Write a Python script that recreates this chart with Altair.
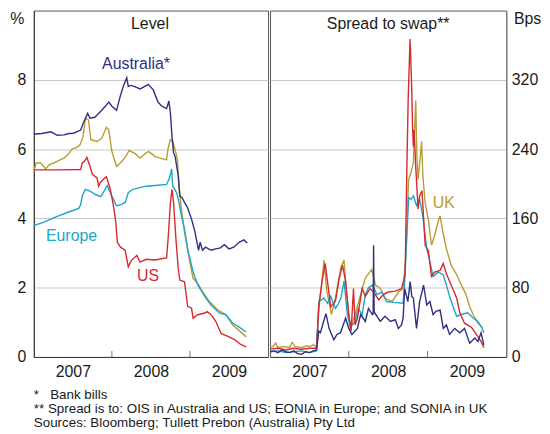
import altair as alt
import pandas as pd

FONT = "Liberation Sans"

# ---------------- data ----------------
# Left panel: Level (%)
AUS_L_T = [2007.00, 2007.10, 2007.22, 2007.30, 2007.385, 2007.45, 2007.51, 2007.60, 2007.64, 2007.69, 2007.72, 2007.78, 2007.83, 2007.87, 2007.92, 2007.96, 2008.00, 2008.06, 2008.11, 2008.15, 2008.19, 2008.21, 2008.25, 2008.30, 2008.36, 2008.41, 2008.465, 2008.53, 2008.59, 2008.64, 2008.70, 2008.73, 2008.75, 2008.77, 2008.79, 2008.81, 2008.83, 2008.85, 2008.87, 2008.90, 2008.93, 2008.97, 2009.02, 2009.06, 2009.09, 2009.11, 2009.13, 2009.16, 2009.20, 2009.27, 2009.33, 2009.39, 2009.44, 2009.50, 2009.56, 2009.63, 2009.69, 2009.735]
AUS_L_V = [6.43, 6.45, 6.50, 6.40, 6.41, 6.45, 6.46, 6.55, 6.79, 7.03, 6.89, 6.92, 7.03, 7.12, 7.25, 7.36, 7.24, 7.12, 7.55, 7.84, 8.06, 7.81, 7.84, 7.80, 7.74, 7.80, 7.87, 7.71, 7.36, 7.24, 7.17, 7.39, 7.03, 6.36, 5.89, 5.79, 5.50, 5.22, 4.65, 4.60, 4.46, 4.31, 3.98, 3.65, 3.31, 3.08, 3.31, 3.08, 3.17, 3.08, 3.12, 3.15, 3.24, 3.12, 3.17, 3.31, 3.38, 3.29]

UK_L_T = [2007.00, 2007.03, 2007.09, 2007.15, 2007.20, 2007.26, 2007.33, 2007.385, 2007.44, 2007.49, 2007.55, 2007.59, 2007.63, 2007.66, 2007.67, 2007.70, 2007.73, 2007.81, 2007.87, 2007.93, 2007.96, 2008.00, 2008.06, 2008.13, 2008.18, 2008.22, 2008.30, 2008.36, 2008.42, 2008.465, 2008.49, 2008.55, 2008.62, 2008.70, 2008.72, 2008.75, 2008.78, 2008.82, 2008.84, 2008.86, 2008.89, 2008.93, 2008.99, 2009.04, 2009.10, 2009.16, 2009.25, 2009.355, 2009.46, 2009.545, 2009.63, 2009.72]
UK_L_V = [5.36, 5.60, 5.60, 5.43, 5.55, 5.60, 5.68, 5.74, 5.85, 6.00, 6.05, 6.12, 6.36, 6.85, 6.89, 6.84, 6.27, 6.22, 6.31, 6.63, 6.55, 5.93, 5.50, 5.65, 5.80, 5.96, 5.87, 5.74, 5.85, 5.93, 5.90, 5.79, 5.74, 5.69, 6.03, 6.27, 6.22, 5.89, 5.69, 4.93, 4.27, 3.60, 2.84, 2.27, 2.12, 1.89, 1.60, 1.36, 1.22, 0.93, 0.76, 0.58]

US_L_T = [2007.00, 2007.30, 2007.60, 2007.62, 2007.65, 2007.68, 2007.72, 2007.75, 2007.81, 2007.83, 2007.85, 2007.91, 2007.93, 2007.98, 2008.02, 2008.05, 2008.07, 2008.11, 2008.17, 2008.21, 2008.25, 2008.32, 2008.36, 2008.44, 2008.55, 2008.70, 2008.72, 2008.75, 2008.77, 2008.79, 2008.82, 2008.85, 2008.87, 2008.93, 2008.97, 2009.02, 2009.04, 2009.10, 2009.19, 2009.22, 2009.27, 2009.33, 2009.40, 2009.48, 2009.57, 2009.65, 2009.72]
US_L_V = [5.40, 5.40, 5.41, 5.60, 5.65, 5.76, 5.50, 5.27, 5.17, 4.93, 5.03, 5.17, 5.20, 4.84, 4.36, 3.89, 3.31, 3.17, 3.08, 2.60, 2.79, 2.93, 2.74, 2.82, 2.80, 2.86, 3.41, 4.46, 4.84, 4.46, 3.41, 2.55, 2.22, 2.17, 1.46, 1.41, 1.12, 1.22, 1.27, 1.31, 1.22, 1.03, 0.67, 0.60, 0.50, 0.36, 0.29]

EUR_L_T = [2007.00, 2007.13, 2007.30, 2007.43, 2007.575, 2007.60, 2007.62, 2007.66, 2007.72, 2007.79, 2007.86, 2007.94, 2007.98, 2008.02, 2008.06, 2008.13, 2008.17, 2008.21, 2008.27, 2008.36, 2008.44, 2008.55, 2008.70, 2008.74, 2008.765, 2008.78, 2008.83, 2008.86, 2008.89, 2008.93, 2008.97, 2009.04, 2009.10, 2009.19, 2009.27, 2009.375, 2009.46, 2009.545, 2009.63, 2009.72]
EUR_L_V = [3.79, 3.89, 4.06, 4.17, 4.29, 4.40, 4.65, 4.84, 4.79, 4.69, 4.63, 4.95, 4.74, 4.55, 4.36, 4.41, 4.46, 4.74, 4.84, 4.89, 4.93, 4.95, 4.98, 5.17, 5.43, 4.93, 4.74, 4.46, 4.08, 3.69, 3.12, 2.46, 2.08, 1.74, 1.50, 1.27, 1.22, 0.98, 0.86, 0.72]

# Right panel: Spread to swap (Bps)
AUS_R_T = [2007.00, 2007.05, 2007.10, 2007.15, 2007.20, 2007.25, 2007.30, 2007.35, 2007.40, 2007.45, 2007.50, 2007.55, 2007.59, 2007.62, 2007.64, 2007.68, 2007.71, 2007.75, 2007.81, 2007.85, 2007.895, 2007.96, 2008.00, 2008.04, 2008.11, 2008.15, 2008.21, 2008.25, 2008.30, 2008.31, 2008.315, 2008.322, 2008.40, 2008.46, 2008.53, 2008.59, 2008.63, 2008.67, 2008.69, 2008.71, 2008.75, 2008.78, 2008.80, 2008.82, 2008.86, 2008.90, 2008.95, 2008.99, 2009.03, 2009.07, 2009.11, 2009.16, 2009.20, 2009.24, 2009.28, 2009.345, 2009.41, 2009.47, 2009.535, 2009.60, 2009.64, 2009.68, 2009.715]
AUS_R_V = [6, 7, 5, 8, 6, 5, 7, 4, 3, 6, 5, 7, 8, 30, 28, 41, 50, 33, 20, 26, 28, 45, 33, 26, 33, 49, 41, 56, 49, 50, 129, 52, 41, 47, 41, 43, 33, 37, 45, 79, 64, 87, 70, 68, 33, 64, 83, 60, 64, 49, 53, 54, 33, 37, 26, 33, 28, 33, 16, 22, 18, 28, 14]

EUR_R_T = [2007.00, 2007.10, 2007.20, 2007.30, 2007.40, 2007.50, 2007.59, 2007.62, 2007.685, 2007.73, 2007.77, 2007.83, 2007.86, 2007.90, 2007.94, 2007.98, 2008.02, 2008.08, 2008.12, 2008.17, 2008.21, 2008.25, 2008.30, 2008.36, 2008.42, 2008.48, 2008.57, 2008.69, 2008.71, 2008.74, 2008.76, 2008.79, 2008.82, 2008.86, 2008.90, 2008.94, 2008.99, 2009.03, 2009.07, 2009.135, 2009.20, 2009.24, 2009.28, 2009.325, 2009.37, 2009.43, 2009.51, 2009.58, 2009.64, 2009.70, 2009.715]
EUR_R_V = [6, 7, 5, 6, 7, 5, 7, 64, 68, 62, 70, 56, 60, 68, 88, 50, 34, 41, 56, 49, 72, 80, 83, 72, 75, 64, 63, 62, 87, 144, 184, 182, 186, 175, 182, 163, 125, 110, 93, 98, 95, 83, 70, 58, 47, 49, 51, 45, 41, 32, 28]

US_R_T = [2007.00, 2007.10, 2007.20, 2007.30, 2007.40, 2007.50, 2007.59, 2007.62, 2007.66, 2007.70, 2007.73, 2007.77, 2007.83, 2007.88, 2007.92, 2007.96, 2008.00, 2008.03, 2008.06, 2008.08, 2008.11, 2008.17, 2008.21, 2008.27, 2008.315, 2008.38, 2008.44, 2008.50, 2008.59, 2008.67, 2008.715, 2008.74, 2008.755, 2008.778, 2008.785, 2008.80, 2008.81, 2008.82, 2008.83, 2008.85, 2008.88, 2008.90, 2008.93, 2008.97, 2009.01, 2009.05, 2009.09, 2009.16, 2009.20, 2009.24, 2009.30, 2009.37, 2009.41, 2009.47, 2009.56, 2009.62, 2009.68, 2009.715]
US_R_V = [9, 10, 8, 10, 9, 10, 10, 60, 87, 108, 87, 58, 64, 91, 106, 87, 49, 30, 79, 37, 45, 79, 70, 79, 75, 66, 72, 75, 76, 79, 95, 230, 300, 367, 350, 308, 266, 243, 262, 220, 171, 186, 192, 129, 123, 93, 98, 100, 108, 96, 83, 68, 51, 39, 34, 26, 18, 11]

UK_R_T = [2007.00, 2007.04, 2007.07, 2007.10, 2007.18, 2007.25, 2007.28, 2007.32, 2007.40, 2007.47, 2007.50, 2007.55, 2007.59, 2007.62, 2007.645, 2007.685, 2007.72, 2007.78, 2007.83, 2007.895, 2007.94, 2007.97, 2008.02, 2008.08, 2008.15, 2008.21, 2008.29, 2008.34, 2008.40, 2008.46, 2008.55, 2008.63, 2008.69, 2008.72, 2008.76, 2008.79, 2008.82, 2008.85, 2008.865, 2008.88, 2008.905, 2008.925, 2008.94, 2008.97, 2009.01, 2009.05, 2009.09, 2009.13, 2009.16, 2009.20, 2009.24, 2009.30, 2009.37, 2009.43, 2009.49, 2009.535, 2009.58, 2009.64, 2009.70]
UK_R_V = [11, 12, 16, 11, 12, 11, 17, 12, 11, 13, 12, 14, 12, 55, 75, 112, 77, 49, 68, 102, 112, 75, 34, 49, 72, 91, 101, 83, 79, 68, 64, 75, 79, 110, 205, 213, 224, 296, 232, 205, 228, 249, 210, 178, 159, 129, 140, 155, 163, 142, 125, 106, 95, 83, 72, 58, 49, 39, 34]

YEAR_LABELS = [2007.5, 2008.5, 2009.5]
YEAR_TICKS = [2008, 2009]
LEFT_TICKS = [0, 2, 4, 6, 8]
RIGHT_TICKS = [0, 80, 160, 240, 320]
PANEL_TITLES = ["Level", "Spread to swap**"]
FOOTNOTES = ["*\u00a0\u00a0 Bank bills",
             "** Spread is to: OIS in Australia and US; EONIA in Europe; and SONIA in UK",
             "Sources: Bloomberg; Tullett Prebon (Australia) Pty Ltd"]

COL = {"Australia": "#2e3080", "UK": "#b89d34", "US": "#d42a30", "Europe": "#1ea5c9"}

W_L, W_R, H = 236, 238, 349

x_scale = alt.Scale(domain=[2007, 2010], nice=False, zero=False)
x_axis = alt.Axis(values=YEAR_LABELS, labelExpr="floor(datum.value)", ticks=False,
                  grid=False, title=None, domainColor="#333333", labelFontSize=16,
                  labelPadding=7, labelFont=FONT, labelColor="#1a1a1a")


def line_layer(t, v, name, ydom, yaxis):
    df = pd.DataFrame({"t": t, "v": v})
    return alt.Chart(df).mark_line(color=COL[name], strokeWidth=1.4, clip=True).encode(
        x=alt.X("t:Q", scale=x_scale, axis=x_axis),
        y=alt.Y("v:Q", scale=alt.Scale(domain=ydom, nice=False, zero=True), axis=yaxis),
    )


def tick_layer(ydom, yaxis):
    df = pd.DataFrame({"t": YEAR_TICKS})
    return alt.Chart(df).mark_rule(color="#777777", strokeWidth=1).encode(
        x=alt.X("t:Q", scale=x_scale, axis=x_axis),
        y=alt.value(H - 6), y2=alt.value(H),
    )


def text_layer(txt, color, x, y, size=16):
    df = pd.DataFrame({"label": [txt]})
    return alt.Chart(df).mark_text(font=FONT, fontSize=size, color=color, align="center",
                                   baseline="alphabetic").encode(
        text="label:N", x=alt.value(x), y=alt.value(y))


left_axis = alt.Axis(values=LEFT_TICKS, orient="left", ticks=False, grid=True,
                     gridColor="#c8c8c8", gridWidth=1, domainColor="#333333",
                     labelFontSize=16, labelFont=FONT, labelColor="#1a1a1a", labelPadding=8,
                     title="%", titleAngle=0, titleX=-17, titleY=8, titleAlign="center",
                     titleBaseline="middle", titleFontSize=16, titleFont=FONT,
                     titleFontWeight="normal", titleColor="#1a1a1a",
                     minExtent=25, maxExtent=25)
right_axis = alt.Axis(values=RIGHT_TICKS, orient="right", ticks=False, grid=True,
                      gridColor="#c8c8c8", gridWidth=1, domainColor="#777777",
                      labelFontSize=16, labelFont=FONT, labelColor="#1a1a1a", labelPadding=5,
                      title="Bps", titleAngle=0, titleX=21, titleY=8, titleAlign="center",
                      titleBaseline="middle", titleFontSize=16, titleFont=FONT,
                      titleFontWeight="normal", titleColor="#1a1a1a")

LD = [0, 10]
RD = [0, 400]

left = alt.layer(
    line_layer(UK_L_T, UK_L_V, "UK", LD, left_axis),
    line_layer(EUR_L_T, EUR_L_V, "Europe", LD, left_axis),
    line_layer(US_L_T, US_L_V, "US", LD, left_axis),
    line_layer(AUS_L_T, AUS_L_V, "Australia", LD, left_axis),
    tick_layer(LD, left_axis),
    text_layer(PANEL_TITLES[0], "#1a1a1a", 117, 19),
    text_layer("Australia*", COL["Australia"], 103, 59),
    text_layer("Europe", COL["Europe"], 38, 232),
    text_layer("US", COL["US"], 115, 272),
).properties(width=W_L, height=H)

right = alt.layer(
    line_layer(UK_R_T, UK_R_V, "UK", RD, right_axis),
    line_layer(EUR_R_T, EUR_R_V, "Europe", RD, right_axis),
    line_layer(US_R_T, US_R_V, "US", RD, right_axis),
    line_layer(AUS_R_T, AUS_R_V, "Australia", RD, right_axis),
    tick_layer(RD, right_axis),
    text_layer(PANEL_TITLES[1], "#1a1a1a", 119, 19),
    text_layer("UK", COL["UK"], 175, 199),
).properties(width=W_R, height=H)

chart = alt.hconcat(left, right, spacing=0).properties(
    padding=0,
    title=alt.TitleParams(text=FOOTNOTES, orient="bottom", anchor="start", frame="group",
                          fontSize=13.5, font=FONT, fontWeight="normal", color="#1a1a1a",
                          lineHeight=14, offset=8),
).configure_view(stroke="#555555", strokeWidth=1)

chart.save("out.html", embed_options={"renderer": "svg", "actions": False})
